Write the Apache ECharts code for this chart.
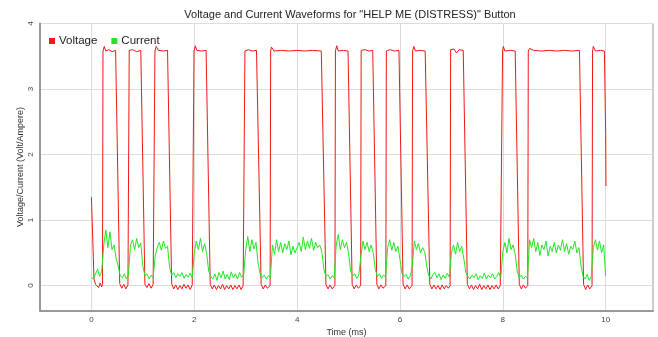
<!DOCTYPE html>
<html>
<head>
<meta charset="utf-8">
<script src="https://cdn.jsdelivr.net/npm/echarts@6/dist/echarts.min.js"></script>
<style>html,body{margin:0;padding:0;background:#fff;}#c{width:658px;height:337px;}</style>
</head>
<body>
<div id="c"></div>
<script>
const titleText = 'Voltage and Current Waveforms for "HELP ME (DISTRESS)" Button';
const xTicks = [0, 2, 4, 6, 8, 10];
const yTicks = [0, 1, 2, 3, 4];
const seriesNames = ['Voltage', 'Current'];

// Voltage: [time (ms), volts]
const voltage = [
[0.00,1.35],[0.05,0.10],[0.08,0.02],[0.11,0.05],[0.14,-0.03],[0.17,0.04],[0.20,-0.02],[0.215,0.02],
[0.225,3.58],[0.25,3.65],[0.28,3.58],[0.34,3.60],[0.40,3.57],[0.47,3.59],
[0.55,0.03],[0.59,-0.04],[0.63,0.02],[0.67,-0.05],[0.71,0.01],[0.725,0.0],
[0.735,3.59],[0.80,3.60],[0.88,3.57],[0.96,3.59],
[1.04,0.02],[1.08,-0.03],[1.12,0.03],[1.16,-0.04],[1.20,0.02],[1.225,0.0],
[1.235,3.58],[1.26,3.65],[1.30,3.59],[1.40,3.58],[1.48,3.59],
[1.56,0.03],[1.60,-0.05],[1.64,0.01],[1.68,-0.06],[1.72,0.0],[1.76,-0.05],[1.80,0.02],[1.84,-0.04],[1.88,0.01],[1.92,-0.06],[1.96,0.01],[1.985,0.0],
[1.995,3.58],[2.02,3.66],[2.05,3.59],[2.15,3.58],[2.23,3.59],
[2.31,0.02],[2.35,-0.05],[2.39,0.01],[2.43,-0.06],[2.47,0.0],[2.51,-0.05],[2.55,0.02],[2.59,-0.06],[2.63,0.0],[2.67,-0.05],[2.71,0.01],[2.75,-0.06],[2.79,0.0],[2.83,-0.05],[2.87,0.01],[2.91,-0.06],[2.95,0.0],[2.975,-0.02],
[2.985,3.58],[3.05,3.60],[3.13,3.58],[3.21,3.59],
[3.30,0.02],[3.34,-0.05],[3.38,0.01],[3.42,-0.04],[3.475,0.0],
[3.485,3.58],[3.50,3.64],[3.55,3.58],[3.70,3.59],[3.85,3.58],[4.00,3.59],[4.15,3.58],[4.30,3.59],[4.47,3.58],
[4.56,0.02],[4.60,-0.05],[4.64,0.01],[4.68,-0.05],[4.735,0.0],
[4.745,3.58],[4.77,3.66],[4.80,3.58],[4.90,3.59],[4.99,3.58],
[5.07,0.02],[5.11,-0.05],[5.15,0.01],[5.19,-0.04],[5.235,0.0],
[5.245,3.59],[5.32,3.60],[5.40,3.58],[5.47,3.59],
[5.55,0.02],[5.59,-0.05],[5.63,0.01],[5.67,-0.04],[5.725,0.0],
[5.735,3.58],[5.80,3.60],[5.90,3.58],[5.98,3.59],
[6.06,0.02],[6.10,-0.05],[6.14,0.01],[6.18,-0.05],[6.235,0.0],
[6.245,3.58],[6.27,3.65],[6.30,3.58],[6.40,3.59],[6.49,3.58],
[6.58,0.02],[6.62,-0.05],[6.66,0.01],[6.70,-0.05],[6.74,0.0],[6.78,-0.06],[6.82,0.01],[6.86,-0.05],[6.90,0.0],[6.94,-0.04],[6.975,0.0],
[6.985,3.60],[7.05,3.61],[7.10,3.55],[7.15,3.60],[7.23,3.59],
[7.31,0.02],[7.35,-0.05],[7.39,0.01],[7.43,-0.06],[7.47,0.0],[7.51,-0.05],[7.55,0.02],[7.59,-0.06],[7.63,0.0],[7.67,-0.05],[7.71,0.01],[7.75,-0.06],[7.79,0.0],[7.83,-0.05],[7.87,0.01],[7.91,-0.05],[7.95,0.0],[7.985,0.0],
[7.995,3.58],[8.01,3.65],[8.04,3.58],[8.15,3.59],[8.24,3.58],
[8.32,0.02],[8.36,-0.05],[8.40,0.01],[8.44,-0.04],[8.485,0.0],
[8.495,3.58],[8.52,3.62],[8.60,3.59],[8.75,3.58],[8.90,3.59],[9.05,3.58],[9.20,3.59],[9.35,3.58],[9.49,3.59],
[9.57,0.02],[9.61,-0.06],[9.65,0.01],[9.69,-0.05],[9.735,0.0],
[9.745,3.58],[9.76,3.65],[9.80,3.58],[9.90,3.59],[9.975,3.58],
[10.0,2.3],[10.005,1.52]
];

// Current: sampled every 0.04 ms from 0 to 10 ms (amperes)
const currentStep = 0.04;
const current = [
0.12,0.10,0.18,0.25,0.14,0.22,0.62,0.85,0.58,0.82,0.55,0.62,0.42,0.30,0.15,0.12,0.18,0.10,0.16,0.62,
0.70,0.55,0.72,0.58,0.65,0.30,0.15,0.18,0.10,0.16,0.12,0.45,0.58,0.66,0.54,0.68,0.57,0.60,0.28,0.16,
0.20,0.12,0.18,0.14,0.20,0.11,0.17,0.13,0.19,0.12,0.50,0.68,0.55,0.72,0.52,0.64,0.50,0.22,0.14,0.10,
0.18,0.08,0.20,0.12,0.22,0.10,0.17,0.09,0.21,0.12,0.18,0.10,0.20,0.13,0.16,0.55,0.75,0.52,0.70,0.56,
0.66,0.35,0.18,0.12,0.16,0.10,0.15,0.12,0.62,0.48,0.70,0.52,0.66,0.50,0.64,0.55,0.68,0.47,0.60,0.50,
0.58,0.66,0.52,0.74,0.55,0.68,0.57,0.72,0.54,0.66,0.58,0.62,0.52,0.25,0.14,0.17,0.10,0.15,0.12,0.62,
0.78,0.55,0.70,0.58,0.66,0.50,0.22,0.15,0.18,0.11,0.16,0.45,0.68,0.55,0.66,0.52,0.62,0.50,0.25,0.14,
0.18,0.11,0.16,0.13,0.58,0.70,0.54,0.66,0.52,0.60,0.40,0.18,0.14,0.17,0.10,0.15,0.30,0.68,0.55,0.64,
0.50,0.58,0.52,0.30,0.15,0.10,0.17,0.20,0.12,0.18,0.09,0.16,0.11,0.19,0.13,0.50,0.62,0.48,0.66,0.52,
0.60,0.42,0.20,0.14,0.10,0.16,0.12,0.18,0.09,0.15,0.11,0.19,0.10,0.16,0.12,0.18,0.10,0.14,0.20,0.12,
0.52,0.66,0.50,0.72,0.55,0.62,0.48,0.22,0.12,0.16,0.10,0.14,0.12,0.70,0.58,0.72,0.52,0.66,0.46,0.62,
0.55,0.68,0.45,0.60,0.52,0.66,0.50,0.62,0.54,0.70,0.52,0.64,0.48,0.60,0.55,0.68,0.50,0.58,0.30,0.14,
0.10,0.17,0.08,0.14,0.58,0.70,0.54,0.68,0.50,0.62,0.15
];

const currentData = current.map((v, i) => [+(i * currentStep).toFixed(3), v]);

const chart = echarts.init(document.getElementById('c'), null, {renderer: 'canvas'});
const font = 'Liberation Sans, Arial, sans-serif';
chart.setOption({
  animation: false,
  backgroundColor: '#ffffff',
  title: {
    text: titleText,
    left: 345, top: 4, textAlign: 'center',
    textStyle: {fontFamily: font, fontSize: 11, fontWeight: 'normal', color: '#222'}
  },
  legend: {
    data: seriesNames.map(n => ({name: n, icon: 'rect'})),
    left: 44, top: 30,
    itemWidth: 6, itemHeight: 6, itemGap: 14,
    textStyle: {fontFamily: font, fontSize: 11.5, color: '#222', padding: [0, 0, 0, -1]}
  },
  grid: {left: 40, right: 5, top: 23.5, bottom: 26.5, outerBoundsMode: 'none', containLabel: false,
         show: true, borderColor: '#9a9a9a', borderWidth: 1},
  xAxis: {
    type: 'value', min: -1, max: 10.92,
    name: 'Time (ms)', nameLocation: 'middle', nameGap: 16,
    nameTextStyle: {fontFamily: font, fontSize: 9, color: '#333'},
    axisLine: {show: true, onZero: false, lineStyle: {color: '#999', width: 2}},
    axisTick: {show: false, customValues: xTicks},
    axisLabel: {customValues: xTicks, fontFamily: font, fontSize: 8, color: '#444', margin: 5},
    splitLine: {show: true, lineStyle: {color: '#dcdcdc', width: 1}}
  },
  yAxis: {
    type: 'value', min: -0.38, max: 4,
    name: 'Voltage/Current (Volt/Ampere)', nameLocation: 'middle', nameGap: 15, nameRotate: 90,
    nameMoveOverlap: false,
    nameTextStyle: {fontFamily: font, fontSize: 9, color: '#333'},
    axisLine: {show: true, onZero: false, lineStyle: {color: '#999', width: 2}},
    axisTick: {show: false, customValues: yTicks},
    axisLabel: {customValues: yTicks, rotate: 90, fontFamily: font, fontSize: 8, color: '#444', margin: 5},
    splitLine: {show: true, lineStyle: {color: '#dcdcdc', width: 1}}
  },
  series: [
    {name: seriesNames[0], type: 'line', data: voltage, showSymbol: false, symbol: 'none',
     lineStyle: {color: '#f01818', width: 1}, itemStyle: {color: '#f01818'}, z: 2},
    {name: seriesNames[1], type: 'line', data: currentData, showSymbol: false, symbol: 'none',
     lineStyle: {color: '#22e622', width: 1}, itemStyle: {color: '#22e622'}, z: 3}
  ]
});
</script>
</body>
</html>
